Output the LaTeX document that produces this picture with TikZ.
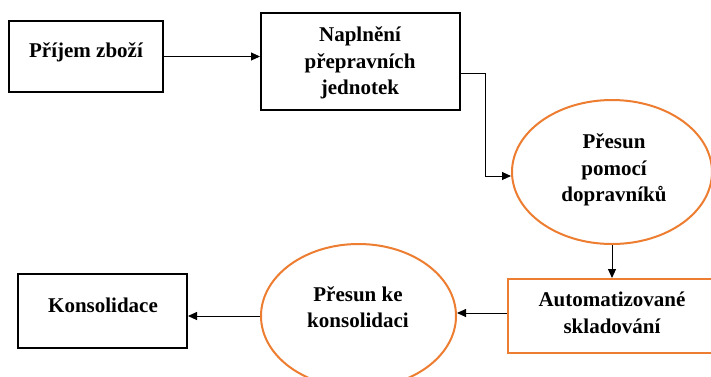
\documentclass[tikz,border=0pt]{standalone}
\usepackage{fontspec}
\setmainfont{Liberation Serif}
\usetikzlibrary{shapes.geometric,arrows.meta}
\definecolor{orng}{HTML}{ED7D31}
\begin{document}
\begin{tikzpicture}[x=1pt,y=-1pt,
  blackbox/.style={draw=black,line width=2pt,rectangle,inner sep=0pt},
  orangebox/.style={draw=orng,line width=2pt,rectangle,inner sep=0pt},
  orangeell/.style={draw=orng,line width=2pt,ellipse,inner sep=0pt},
  lbl/.style={font=\bfseries\fontsize{21}{26.5}\selectfont,align=center,inner sep=0pt},
  arr/.style={draw=black,line width=0.9pt,-{Triangle[length=9pt,width=8pt]}}]
\useasboundingbox (0,0) rectangle (711,376);
\clip (0,0) rectangle (711,376);
\fill[white] (0,0) rectangle (711,376);
% shapes
\node[blackbox,minimum width=154pt,minimum height=71pt] (b1) at (86,56.5) {};
\node[blackbox,minimum width=199pt,minimum height=97pt] (b2) at (360.5,61.5) {};
\node[orangeell,minimum width=200pt,minimum height=144pt] (e1) at (612,172) {};
\node[orangebox,minimum width=208pt,minimum height=74pt] (b3) at (612,316) {};
\node[orangeell,minimum width=195pt,minimum height=144pt] (e2) at (358.5,316) {};
\node[blackbox,minimum width=169pt,minimum height=74pt] (b4) at (102.5,311) {};
% texts
\node[lbl] (t1) at (86,52) {Příjem zboží};
\node[lbl] (t2) at (360,63) {Naplnění\\přepravních\\jednotek};
\node[lbl] (t3) at (614,170) {Přesun\\pomocí\\dopravníků};
\node[lbl] (t4) at (612,313) {Automatizované\\skladování};
\node[lbl] (t5) at (358,307) {Přesun ke\\konsolidaci};
\node[lbl] (t6) at (103,305) {Konsolidace};
% connectors
\draw[arr] (b1.east) -- (b1.east -| b2.west);
\draw[arr] ([yshift=-11.5pt]b2.east) -- ++(24,0) |- ([yshift=-4pt]e1.west);
\draw[arr] (e1.south) -- (e1.south |- b3.north);
\draw[arr] ([yshift=3pt]b3.west) -- ([yshift=3pt]b3.west -| e2.east);
\draw[arr] (e2.west) -- (e2.west -| b4.east);
\end{tikzpicture}
\end{document}
